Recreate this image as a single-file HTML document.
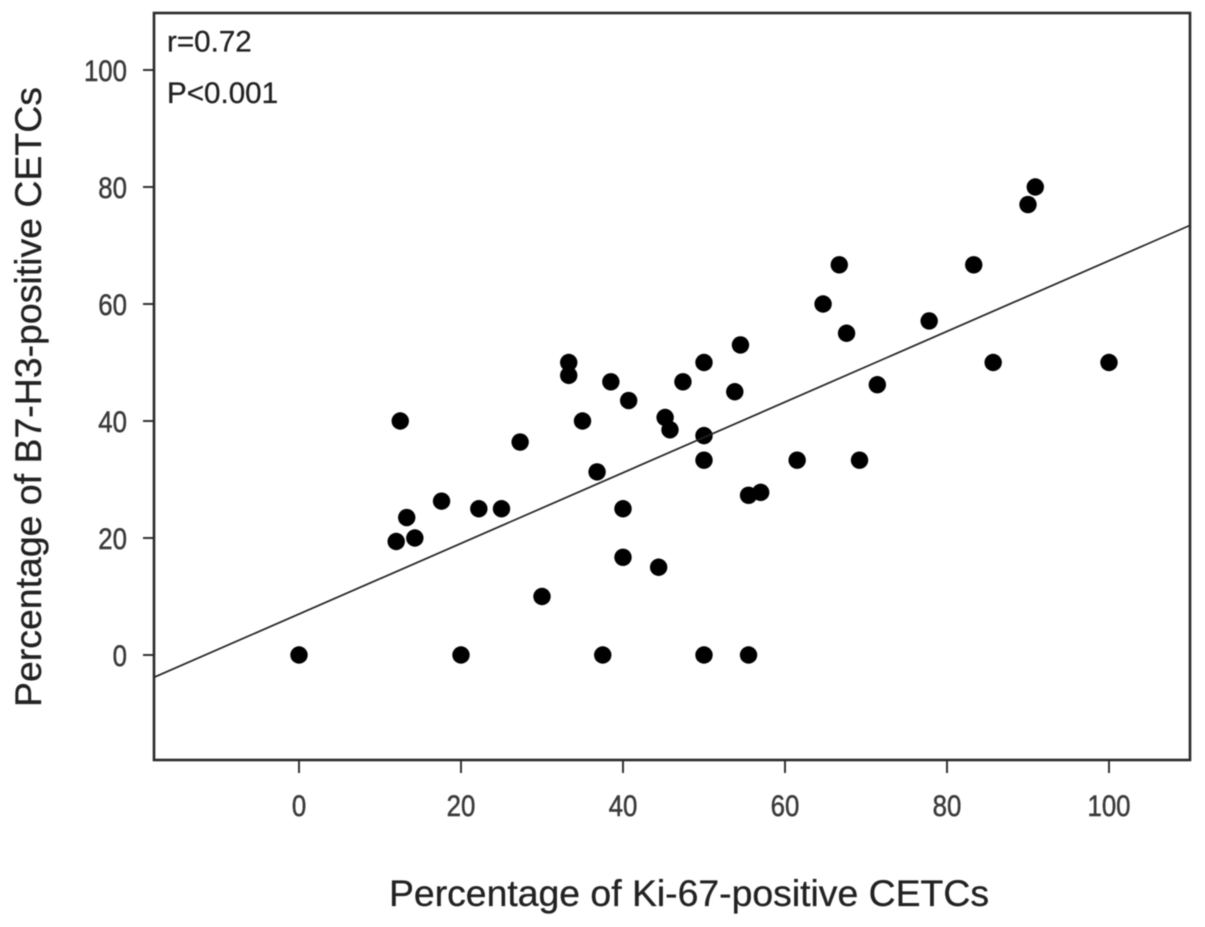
<!DOCTYPE html>
<html>
<head>
<meta charset="utf-8">
<style>
html,body{margin:0;padding:0;background:#fff;}
svg{display:block;font-family:"Liberation Sans",sans-serif;filter:blur(0.6px);}
</style>
</head>
<body>
<svg id="chart" xmlns="http://www.w3.org/2000/svg" width="1205" height="927" viewBox="0 0 1205 927">
  <rect x="0" y="0" width="1205" height="927" fill="#fff"/>
  <defs><clipPath id="plot-clip"><rect x="154" y="13" width="1036" height="747"/></clipPath></defs>
  <g id="ticks"></g>
  <g id="points" clip-path="url(#plot-clip)"></g>
  <line id="fit" stroke="#222" stroke-width="1.7" clip-path="url(#plot-clip)"/>
  <rect x="154" y="13" width="1036" height="747" fill="none" stroke="#2a2a2a" stroke-width="2.6"/>
  <text x="167" y="51.5" font-size="29.6" fill="#222" stroke="#222" stroke-width="0.3">r=0.72</text>
  <text x="167" y="103" font-size="29.6" fill="#222" stroke="#222" stroke-width="0.3">P&lt;0.001</text>
  <text x="689" y="906" font-size="37" fill="#222" stroke="#222" stroke-width="0.3" text-anchor="middle" textLength="600" lengthAdjust="spacingAndGlyphs">Percentage of Ki-67-positive CETCs</text>
  <text transform="translate(41,397) rotate(-90)" font-size="37" fill="#222" stroke="#222" stroke-width="0.3" text-anchor="middle" textLength="620" lengthAdjust="spacingAndGlyphs">Percentage of B7-H3-positive CETCs</text>
</svg>
<script>
const xTicks = [0, 20, 40, 60, 80, 100];
const yTicks = [0, 20, 40, 60, 80, 100];
const xValues = [0, 20, 37.5, 50, 55.5, 30, 44.4, 40, 40, 25, 22.2, 17.6, 14.3, 12, 13.3, 12.5, 27.3, 33.3, 33.3, 35, 36.8, 38.5, 40.7, 45.2, 45.8, 47.4, 50, 50, 50, 53.8, 54.5, 55.5, 57, 61.5, 64.7, 66.7, 67.6, 69.2, 71.4, 77.8, 83.3, 85.7, 100, 90, 90.9];
const yValues = [0, 0, 0, 0, 0, 10, 15, 16.7, 25, 25, 25, 26.3, 20, 19.4, 23.5, 40, 36.4, 50, 47.8, 40, 31.3, 46.7, 43.5, 40.6, 38.5, 46.7, 50, 37.5, 33.3, 45, 53, 27.3, 27.8, 33.3, 60, 66.7, 55, 33.3, 46.2, 57.1, 66.7, 50, 50, 77, 80];
const fitSlope = 0.604;
const fitIntercept = 7;

const NS = 'http://www.w3.org/2000/svg';
const sx = v => 299 + v * 8.1;
const sy = v => 655 - v * 5.85;
const ticks = document.getElementById('ticks');
const points = document.getElementById('points');

xTicks.forEach(t => {
  const m = document.createElementNS(NS, 'line');
  
  
  m.setAttribute('x1', sx(t)); m.setAttribute('x2', sx(t));
  m.setAttribute('y1', 760); m.setAttribute('y2', 773);
  m.setAttribute('stroke', '#333'); m.setAttribute('stroke-width', 2);
  ticks.appendChild(m);
  const l = document.createElementNS(NS, 'text');
  
  
  l.setAttribute('transform', 'translate(' + sx(t) + ',816) scale(0.86,1)');
  l.setAttribute('text-anchor', 'middle');
  l.setAttribute('font-size', 30);
  l.setAttribute('fill', '#3a3a3a');
  l.setAttribute('stroke', '#3a3a3a');
  l.setAttribute('stroke-width', 0.5);
  l.textContent = t;
  ticks.appendChild(l);
});

yTicks.forEach(t => {
  const m = document.createElementNS(NS, 'line');
  
  
  m.setAttribute('x1', 143); m.setAttribute('x2', 154);
  m.setAttribute('y1', sy(t)); m.setAttribute('y2', sy(t));
  m.setAttribute('stroke', '#333'); m.setAttribute('stroke-width', 2);
  ticks.appendChild(m);
  const l = document.createElementNS(NS, 'text');
  
  
  l.setAttribute('transform', 'translate(127,' + (sy(t) + 11) + ') scale(0.86,1)');
  l.setAttribute('text-anchor', 'end');
  l.setAttribute('font-size', 30);
  l.setAttribute('fill', '#3a3a3a');
  l.setAttribute('stroke', '#3a3a3a');
  l.setAttribute('stroke-width', 0.5);
  l.textContent = t;
  ticks.appendChild(l);
});

xValues.forEach((x, i) => {
  const c = document.createElementNS(NS, 'circle');
  
  
  c.setAttribute('cx', sx(x));
  c.setAttribute('cy', sy(yValues[i]));
  c.setAttribute('r', 8.7);
  c.setAttribute('fill', '#000');
  points.appendChild(c);
});

const fit = document.getElementById('fit');
const xMin = -17.9, xMax = 110;
fit.setAttribute('x1', sx(xMin));
fit.setAttribute('y1', sy(fitIntercept + fitSlope * xMin));
fit.setAttribute('x2', sx(xMax));
fit.setAttribute('y2', sy(fitIntercept + fitSlope * xMax));
</script>
</body>
</html>
